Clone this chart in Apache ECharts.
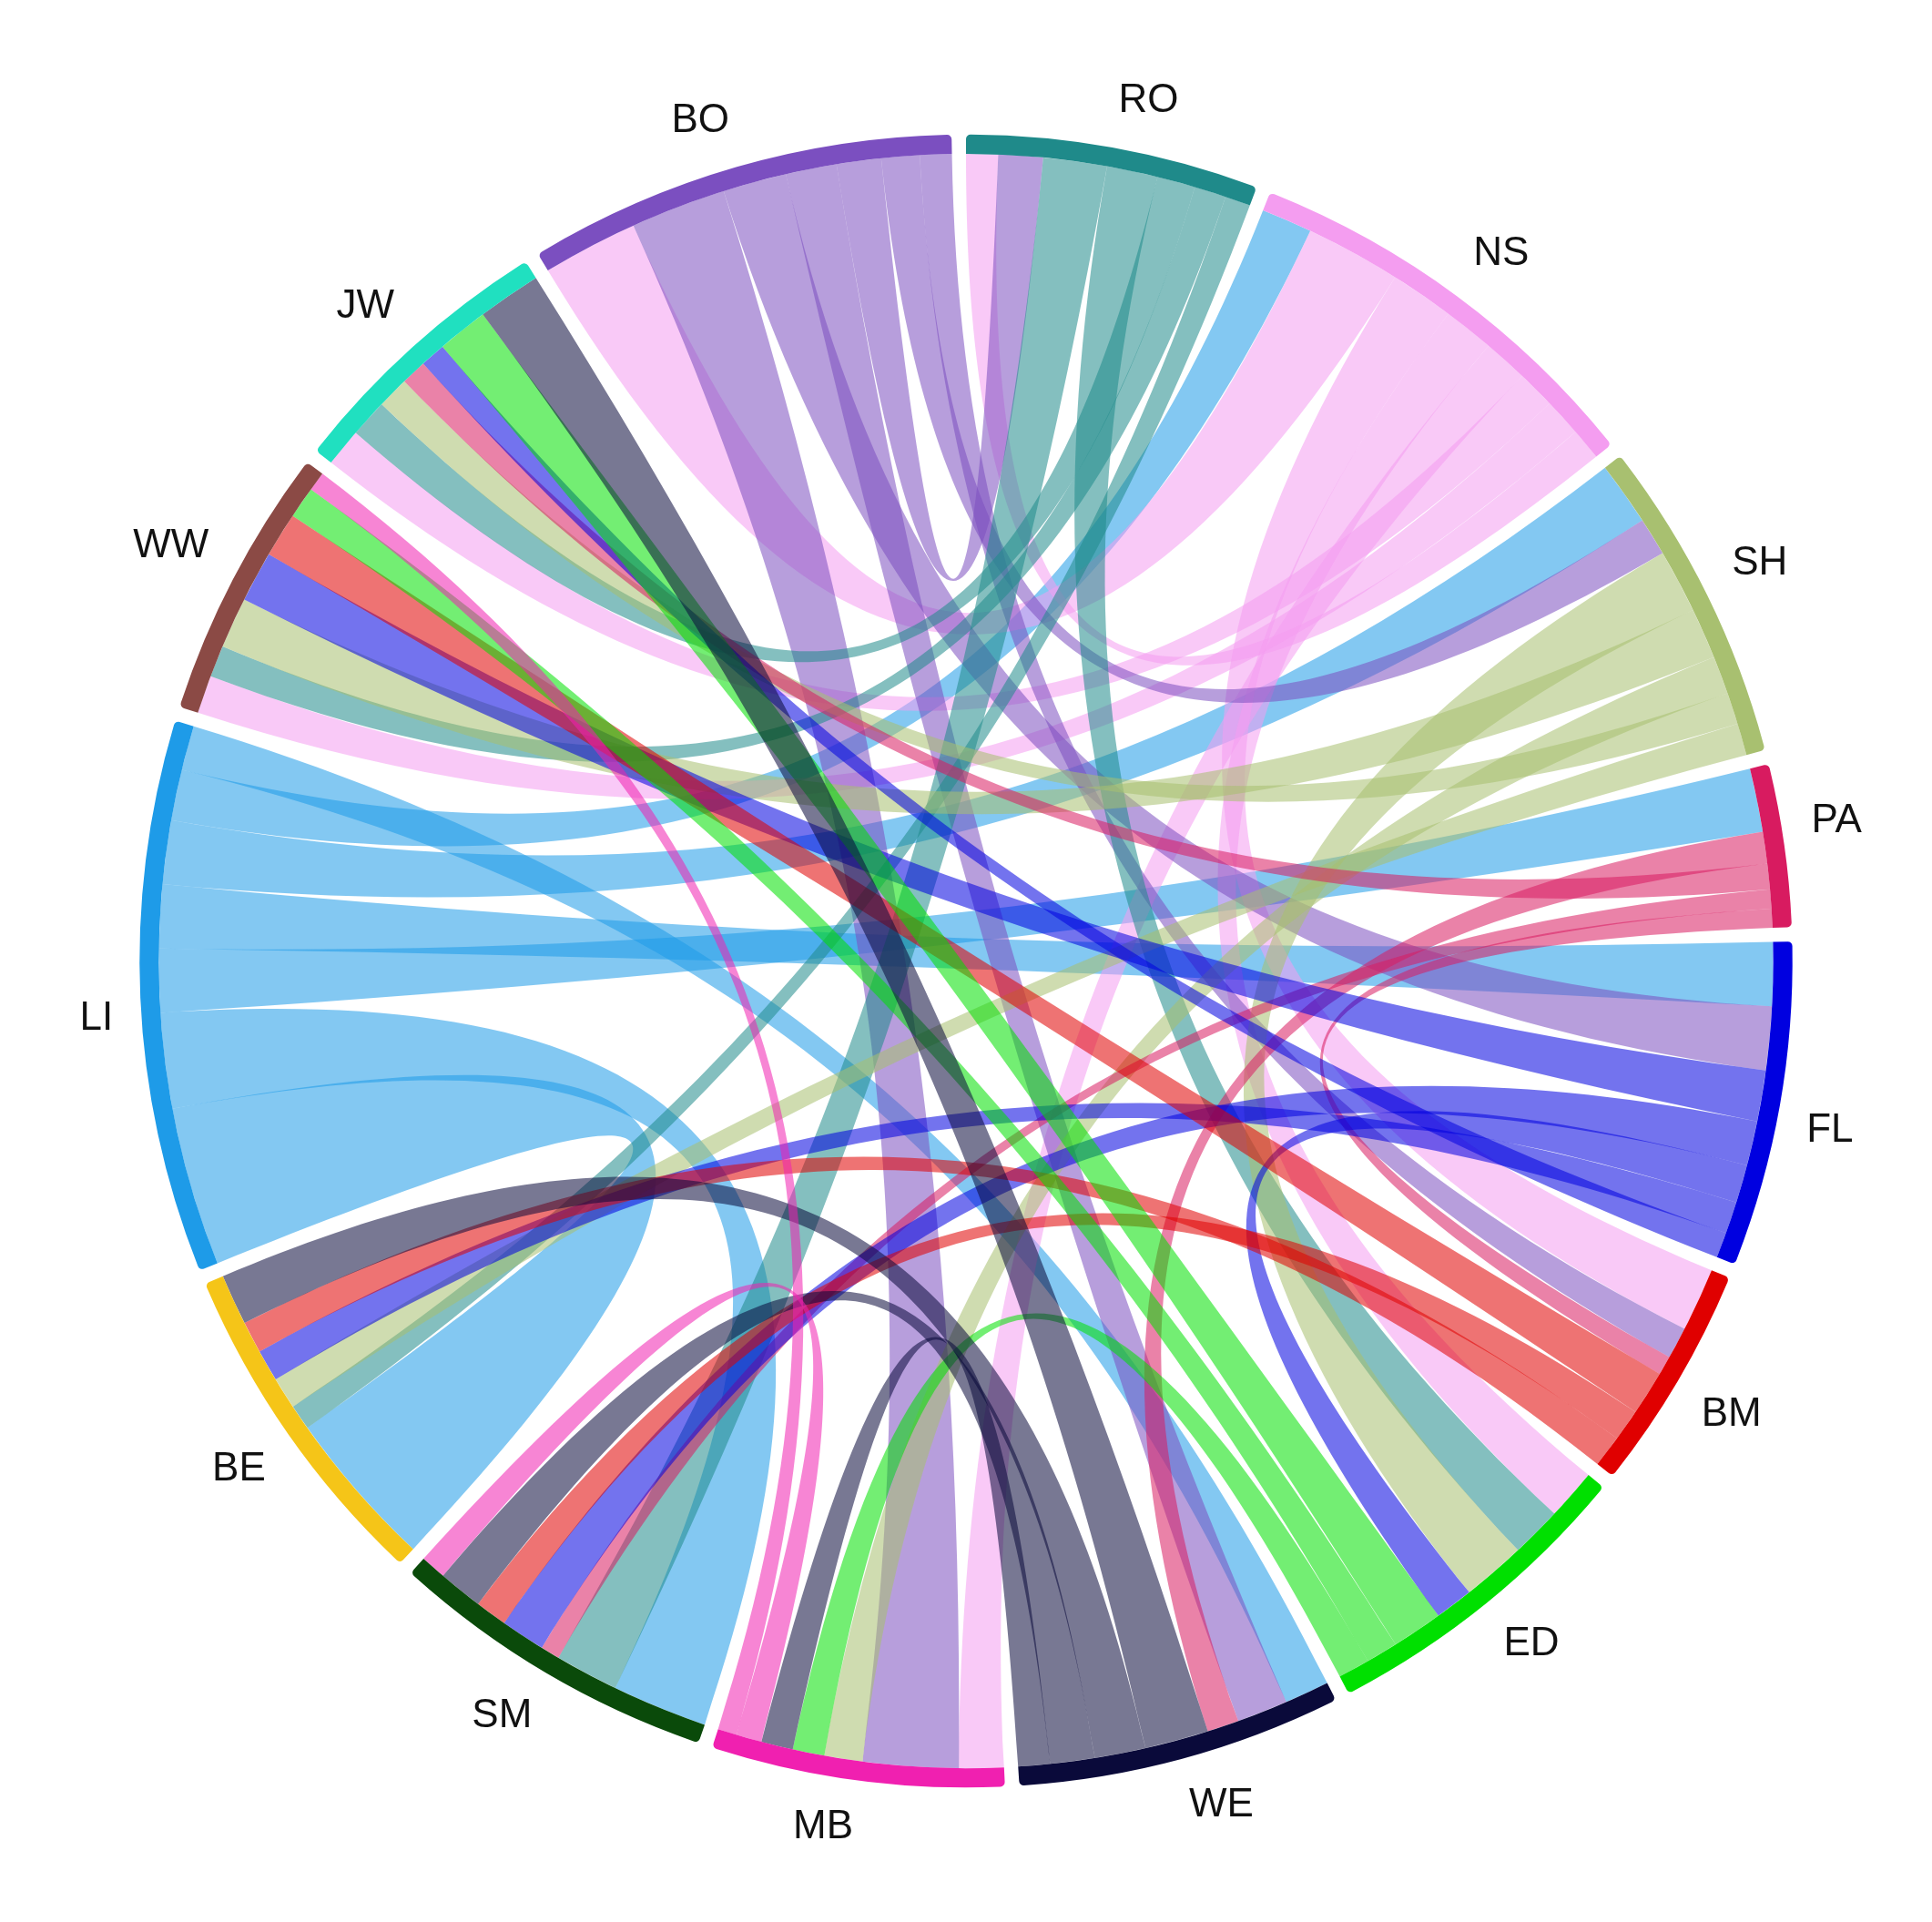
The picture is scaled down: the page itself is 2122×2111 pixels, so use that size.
<!DOCTYPE html>
<html>
<head>
<meta charset="utf-8">
<script src="https://cdn.jsdelivr.net/npm/echarts@6/dist/echarts.min.js"></script>
<style>html,body{margin:0;background:#fff}#main{width:2122px;height:2111px}</style>
</head>
<body>
<div id="main"></div>
<script>
// sectors clockwise from top
var names = ['RO','NS','SH','PA','FL','BM','ED','WE','MB','SM','BE','LI','WW','JW','BO'];
var colors = ['#1f8a8a','#f49df0','#a8c070','#d81b60','#0000e0','#e00000','#00e000','#0a0a3a','#f020b0','#0a4a0a','#f5c518','#1e9be8','#8b4a45','#20e0c0','#7b4fc0'];

// links (values read roughly from band widths)
var linkSrc = ['LI','LI','LI','LI','LI','LI','LI',
  'NS','NS','NS','NS','NS','NS','NS',
  'BO','BO','BO','BO','BO','BO',
  'RO','RO','RO','RO','RO',
  'SH','SH','SH','SH','SH',
  'PA','PA','PA','PA',
  'FL','FL','FL','FL','FL',
  'BM','BM','BM',
  'ED','ED','ED',
  'WE','WE','WE','WE',
  'MB','MB'];
var linkTgt = ['BE','SM','PA','FL','SH','NS','WE',
  'BO','BM','ED','MB','JW','WW','RO',
  'MB','FL','WE','RO','SH','BM',
  'SM','ED','JW','WW','BE',
  'ED','WW','MB','JW','BE',
  'WE','JW','SM','BM',
  'WW','SM','ED','BE','JW',
  'WW','SM','BE',
  'JW','WW','MB',
  'JW','BE','SM','MB',
  'SM','WW'];
var linkVal = [0.25,0.15,0.10,0.10,0.10,0.08,0.07,
  0.15,0.10,0.08,0.07,0.06,0.06,0.05,
  0.15,0.10,0.08,0.07,0.06,0.05,
  0.10,0.08,0.06,0.05,0.04,
  0.10,0.08,0.06,0.05,0.05,
  0.05,0.04,0.03,0.03,
  0.08,0.07,0.06,0.05,0.04,
  0.07,0.05,0.05,
  0.08,0.05,0.05,
  0.10,0.08,0.07,0.05,
  0.04,0.03];

var chart = echarts.init(document.getElementById('main'));
chart.setOption({
  animation: false,
  series: [{
    type: 'chord',
    center: ['50%', '50%'],
    radius: ['84%', '86%'],
    startAngle: 90,
    clockwise: true,
    padAngle: 1,
    data: names.map(function (n, i) {
      return { name: n, itemStyle: { color: colors[i] } };
    }),
    links: linkSrc.map(function (s, i) {
      return { source: s, target: linkTgt[i], value: linkVal[i] };
    }),
    lineStyle: { color: 'source', opacity: 0.55 },
    label: {
      show: true,
      position: 'outside',
      fontSize: 44,
      color: '#111',
      fontFamily: 'Liberation Sans',
      distance: 30
    }
  }]
});
</script>
</body>
</html>
